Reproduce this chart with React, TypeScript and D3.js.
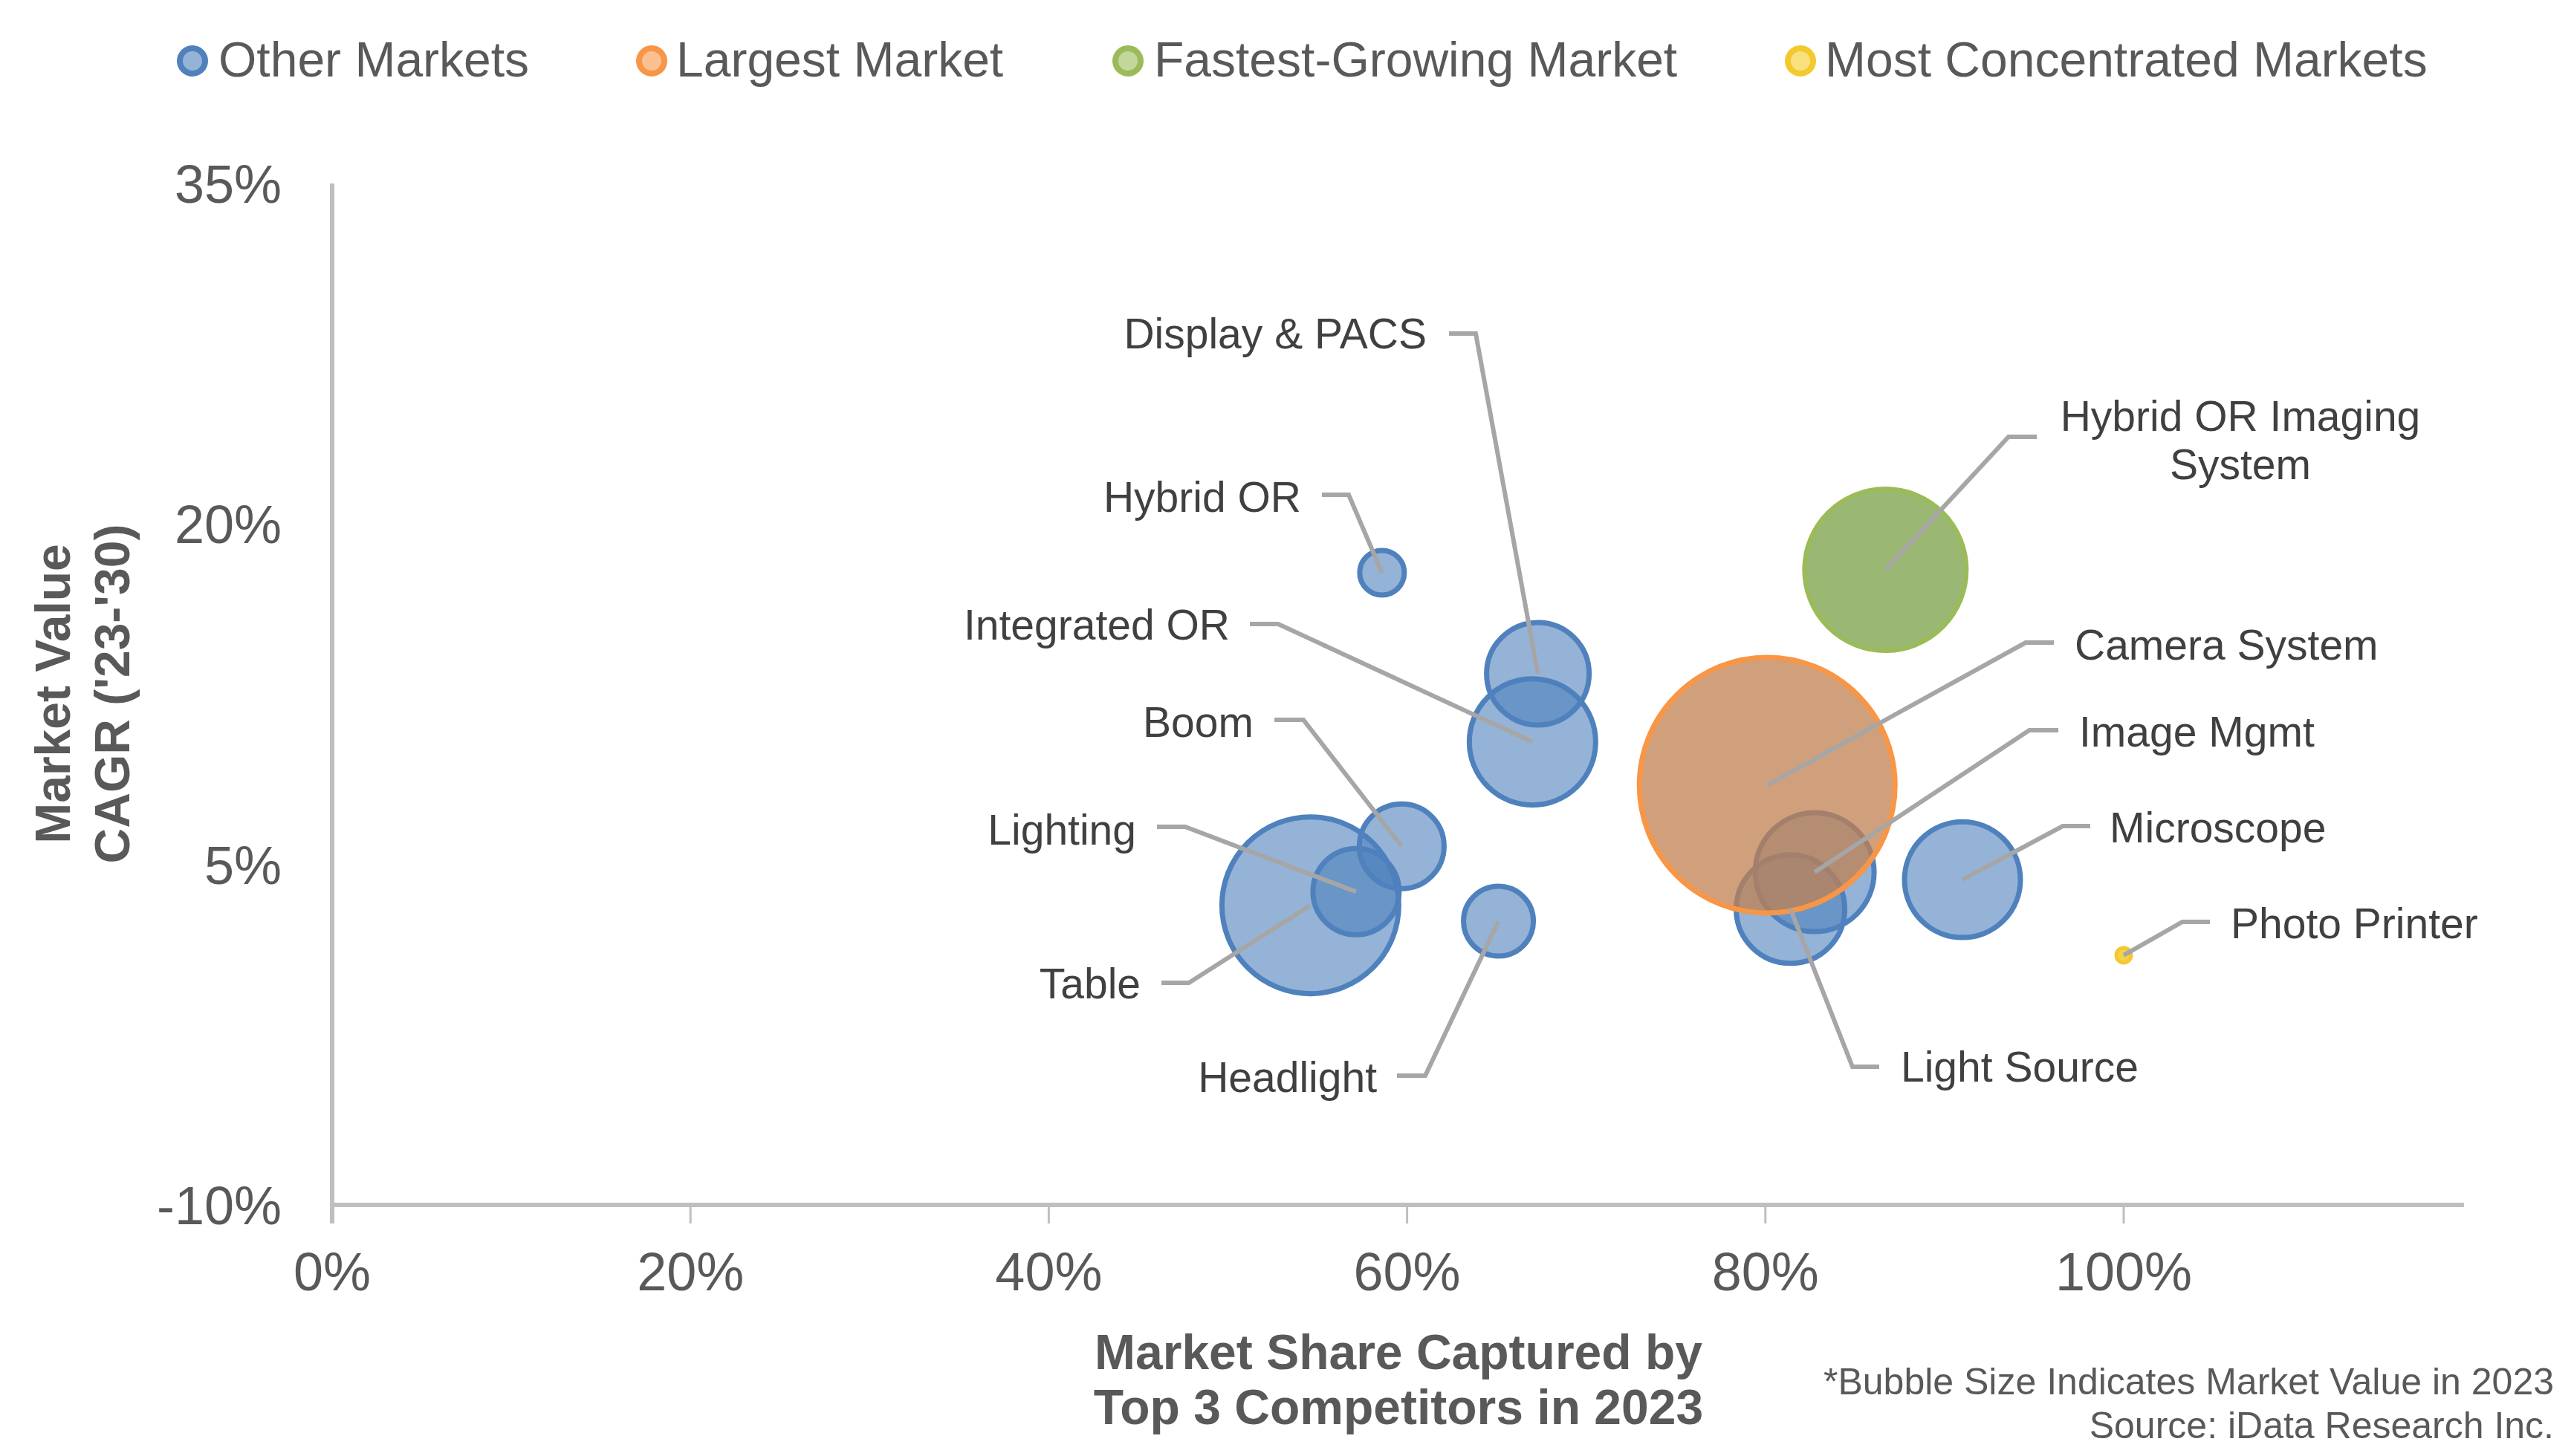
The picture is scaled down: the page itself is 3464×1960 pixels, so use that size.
import React from 'react';
import * as d3 from 'd3';

// ---------- data ----------
const markets = [
  'Table', 'Lighting', 'Boom', 'Headlight', 'Integrated OR', 'Display & PACS', 'Hybrid OR',
  'Light Source', 'Image Mgmt', 'Microscope', 'Camera System', 'Hybrid OR Imaging System', 'Photo Printer',
];
const shareTop3 = [0.546, 0.5715, 0.597, 0.651, 0.670, 0.673, 0.586, 0.814, 0.8275, 0.910, 0.801, 0.867, 1.0];
const cagr = [0.032, 0.038, 0.058, 0.025, 0.104, 0.134, 0.1785, 0.0303, 0.0466, 0.0433, 0.0849, 0.1798, 0.010];
const marketValue = [141.6, 33.6, 32.5, 22.1, 72.3, 47.6, 9, 53.3, 64, 60.8, 295.8, 118.8, 1];
const category = [
  'other', 'other', 'other', 'other', 'other', 'other', 'other',
  'other', 'other', 'other', 'largest', 'fastest', 'concentrated',
];
const legendLabels = ['Other Markets', 'Largest Market', 'Fastest-Growing Market', 'Most Concentrated Markets'];
const legendKeys = ['other', 'largest', 'fastest', 'concentrated'];
const xTicks = [0, 0.2, 0.4, 0.6, 0.8, 1.0];
const yTicks = [-0.10, 0.05, 0.20, 0.35];

// ---------- styles / layout ----------
const W = 3464, H = 1960;
const styles: Record<string, { fill: string; stroke: string; sw: number; legFill: string }> = {
  other: { fill: 'rgba(79,129,189,0.6)', stroke: '#4f81bd', sw: 7, legFill: '#95b3d7' },
  largest: { fill: 'rgba(192,128,81,0.75)', stroke: '#f79646', sw: 7, legFill: '#fac090' },
  fastest: { fill: 'rgba(120,160,70,0.75)', stroke: '#9bbb59', sw: 6, legFill: '#c3d69b' },
  concentrated: { fill: 'rgba(244,201,46,0.85)', stroke: '#f4c92e', sw: 5, legFill: '#f9e07f' },
};
const legendPos = [
  { mx: 259, tx: 294 },
  { mx: 877, tx: 910 },
  { mx: 1518, tx: 1553 },
  { mx: 2423, tx: 2456 },
];
// annotation layout: text anchor, text middle y, elbow segment [x from text side, x toward bubble] at y
const labelLayout: Record<string, { tx: number; ty: number[]; anchor: string; h1: number; h2: number; hy: number; lines?: string[] }> = {
  'Hybrid OR': { tx: 1751, ty: [669], anchor: 'end', h1: 1779, h2: 1815, hy: 666 },
  'Display & PACS': { tx: 1920, ty: [449], anchor: 'end', h1: 1950, h2: 1986, hy: 449 },
  'Integrated OR': { tx: 1655, ty: [841], anchor: 'end', h1: 1682, h2: 1720, hy: 840 },
  'Boom': { tx: 1687, ty: [972], anchor: 'end', h1: 1715, h2: 1754, hy: 969 },
  'Lighting': { tx: 1529, ty: [1117], anchor: 'end', h1: 1557, h2: 1595, hy: 1113 },
  'Table': { tx: 1535, ty: [1324], anchor: 'end', h1: 1563, h2: 1600, hy: 1323 },
  'Headlight': { tx: 1853, ty: [1450], anchor: 'end', h1: 1880, h2: 1918, hy: 1448 },
  'Camera System': { tx: 2792, ty: [868], anchor: 'start', h1: 2764, h2: 2726, hy: 865 },
  'Image Mgmt': { tx: 2798, ty: [985], anchor: 'start', h1: 2770, h2: 2731, hy: 983 },
  'Microscope': { tx: 2839, ty: [1114], anchor: 'start', h1: 2813, h2: 2776, hy: 1112 },
  'Photo Printer': { tx: 3002, ty: [1243], anchor: 'start', h1: 2974, h2: 2937, hy: 1241 },
  'Light Source': { tx: 2558, ty: [1436], anchor: 'start', h1: 2529, h2: 2493, hy: 1436 },
  'Hybrid OR Imaging System': { tx: 3015, ty: [560, 625], anchor: 'middle', h1: 2741, h2: 2703, hy: 588, lines: ['Hybrid OR Imaging', 'System'] },
};

const FONT = '"Liberation Sans", Arial, Helvetica, sans-serif';

export default function App() {
  const x = d3.scaleLinear().domain([0, 1.19]).range([447, 447 + 1.19 * 2411]);
  const y = d3.scaleLinear().domain([-0.10, 0.35]).range([1622, 247]);
  const r = d3.scaleSqrt().domain([0, d3.max(marketValue) as number]).range([0, 172]);
  const pct = (v: number) => d3.format('.0%')(v).replace('\u2212', '-');

  const data = markets.map((m, i) => ({
    name: m, sx: shareTop3[i], cy: cagr[i], v: marketValue[i], cat: category[i],
  }));

  const axisColor = '#bfbfbf';
  const x0 = x(0), xEnd = x(1.19), yBase = y(-0.10), yTop = y(0.35);

  return (
    <svg width={W} height={H} viewBox={`0 0 ${W} ${H}`}
      style={{ position: 'absolute', left: 0, top: 0, background: '#fff', fontFamily: FONT }}>
      <rect x={0} y={0} width={W} height={H} fill="#fff" />

      {/* legend */}
      {legendKeys.map((k, i) => (
        <g key={k}>
          <circle cx={legendPos[i].mx} cy={82} r={17} fill={styles[k].legFill} stroke={styles[k].stroke} strokeWidth={8} />
          <text x={legendPos[i].tx} y={103} fontSize={66} fill="#595959">{legendLabels[i]}</text>
        </g>
      ))}

      {/* axes */}
      <line x1={x0} x2={x0} y1={yTop} y2={1647} stroke={axisColor} strokeWidth={6} />
      <line x1={x0} x2={xEnd} y1={yBase} y2={yBase} stroke={axisColor} strokeWidth={6} />
      {xTicks.filter(t => t > 0).map(t => (
        <line key={t} x1={x(t)} x2={x(t)} y1={yBase} y2={1647} stroke={axisColor} strokeWidth={3} />
      ))}
      {xTicks.map(t => (
        <text key={t} x={x(t)} y={1737} fontSize={72} fill="#595959" textAnchor="middle">{pct(t)}</text>
      ))}
      {yTicks.map(t => (
        <text key={t} x={379} y={y(t) + 26} fontSize={72} fill="#595959" textAnchor="end">{pct(t)}</text>
      ))}

      {/* bubbles */}
      {data.map(d => {
        const s = styles[d.cat];
        return (
          <circle key={d.name} cx={x(d.sx)} cy={y(d.cy)} r={r(d.v)} fill={s.fill} stroke={s.stroke} strokeWidth={s.sw} />
        );
      })}

      {/* leader lines + labels */}
      {data.map(d => {
        const L = labelLayout[d.name];
        const pts: [number, number][] = [[L.h1, L.hy], [L.h2, L.hy], [x(d.sx), y(d.cy)]];
        const lines = L.lines || [d.name];
        return (
          <g key={'lab' + d.name}>
            <path d={d3.line()(pts) as string} fill="none" stroke="#a6a6a6" strokeWidth={6} />
            {lines.map((ln, j) => (
              <text key={j} x={L.tx} y={L.ty[j] + 20} fontSize={57} fill="#404040" textAnchor={L.anchor as any} style={{ whiteSpace: 'pre' }}>{ln}</text>
            ))}
          </g>
        );
      })}

      {/* axis titles */}
      <g transform="translate(94,934) rotate(-90)">
        <text x={0} y={0} fontSize={66} fontWeight="bold" fill="#595959" textAnchor="middle">Market Value</text>
      </g>
      <g transform="translate(174,934) rotate(-90)">
        <text x={0} y={0} fontSize={66} fontWeight="bold" fill="#595959" textAnchor="middle">CAGR ('23-'30)</text>
      </g>
      <text x={1882} y={1843} fontSize={66} fontWeight="bold" fill="#595959" textAnchor="middle">Market Share Captured by</text>
      <text x={1882} y={1917} fontSize={66} fontWeight="bold" fill="#595959" textAnchor="middle">Top 3 Competitors in 2023</text>

      {/* footnote */}
      <text x={3437} y={1877} fontSize={50} fill="#595959" textAnchor="end">*Bubble Size Indicates Market Value in 2023</text>
      <text x={3437} y={1936} fontSize={50} fill="#595959" textAnchor="end">Source: iData Research Inc.</text>
    </svg>
  );
}
